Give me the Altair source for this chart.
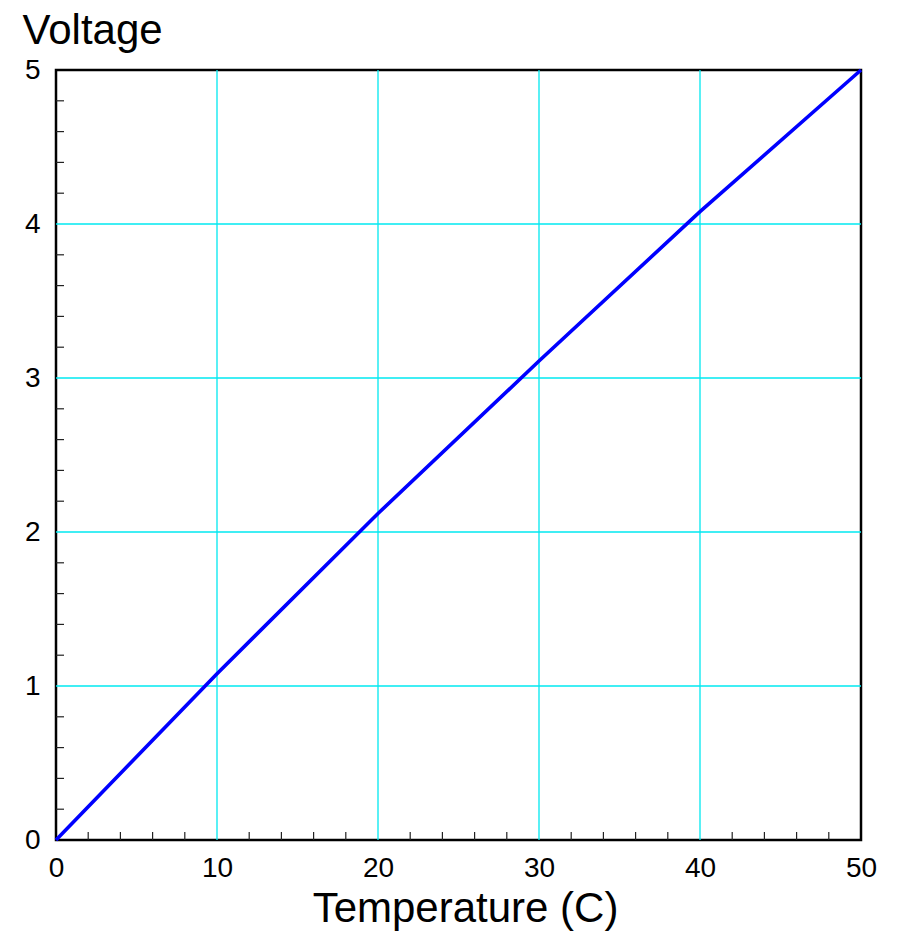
import altair as alt
import pandas as pd

# Data
temperature = [0, 10, 20, 30, 40, 50]
voltage = [0.0, 1.08, 2.12, 3.11, 4.08, 5.0]

x_major = [0, 10, 20, 30, 40, 50]
y_major = [0, 1, 2, 3, 4, 5]
x_grid = [10, 20, 30, 40]
y_grid = [1, 2, 3, 4]
x_minor = [v for v in range(0, 51, 2) if v % 10 != 0]
y_minor = [round(v * 0.2, 1) for v in range(0, 26) if v % 5 != 0]

W, H = 805, 770
FONT = "Liberation Sans"
GRID = "#00E8F0"

line_df = pd.DataFrame({"T": temperature, "V": voltage})
xminor_df = pd.DataFrame({"T": x_minor})
yminor_df = pd.DataFrame({"V": y_minor})
xgrid_df = pd.DataFrame({"T": x_grid})
ygrid_df = pd.DataFrame({"V": y_grid})

xscale = alt.Scale(domain=[0, 50], nice=False, zero=False)
yscale = alt.Scale(domain=[0, 5], nice=False, zero=False)

xaxis = alt.Axis(
    values=x_major, format="d", grid=False,
    domain=False, ticks=False, labelFont=FONT, labelFontSize=28, labelColor="black",
    labelPadding=14, labelFlush=False, labelOverlap=False,
    title="Temperature (C)", titleFont=FONT, titleFontSize=42, titleFontWeight="normal",
    titleColor="black", titleX=409, titleY=81, titleAlign="center",
    titleBaseline="alphabetic",
)
yaxis = alt.Axis(
    values=y_major, format="d", grid=False,
    domain=False, ticks=False, labelFont=FONT, labelFontSize=28, labelColor="black",
    labelPadding=16, labelFlush=False, labelOverlap=False,
    title="Voltage", titleFont=FONT, titleFontSize=42, titleFontWeight="normal",
    titleColor="black", titleAngle=0, titleX=-34, titleY=-27, titleAlign="left",
    titleBaseline="alphabetic",
)

xgrid = alt.Chart(xgrid_df).mark_rule(color=GRID, strokeWidth=1.3).encode(
    x=alt.X("T:Q", scale=xscale, axis=xaxis),
    y=alt.value(0),
    y2=alt.value(H),
)

ygrid = alt.Chart(ygrid_df).mark_rule(color=GRID, strokeWidth=1.3).encode(
    y=alt.Y("V:Q", scale=yscale, axis=yaxis),
    x=alt.value(0),
    x2=alt.value(W),
)

line = alt.Chart(line_df).mark_line(color="#0000FF", strokeWidth=3.6).encode(
    x=alt.X("T:Q", scale=xscale, axis=xaxis),
    y=alt.Y("V:Q", scale=yscale, axis=yaxis),
)

xticks = alt.Chart(xminor_df).mark_rule(color="#222222", strokeWidth=1.2).encode(
    x=alt.X("T:Q", scale=xscale, axis=xaxis),
    y=alt.value(H),
    y2=alt.value(H - 8),
)

yticks = alt.Chart(yminor_df).mark_rule(color="#222222", strokeWidth=1.2).encode(
    y=alt.Y("V:Q", scale=yscale, axis=yaxis),
    x=alt.value(0),
    x2=alt.value(8),
)

chart = alt.layer(xgrid, ygrid, xticks, yticks, line).properties(
    width=W, height=H,
    background="white",
    autosize=alt.AutoSizeParams(type="none"),
    padding={"left": 48, "top": 62, "right": 30, "bottom": 92},
).configure_view(
    stroke="black", strokeWidth=2.5
)

chart.save("out.html", embed_options={"renderer": "svg", "actions": False})
